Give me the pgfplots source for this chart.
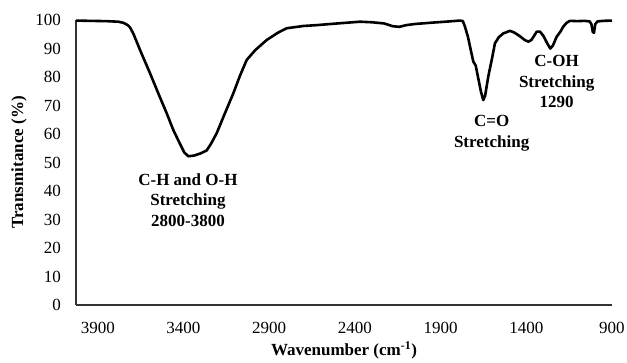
\documentclass[border=0pt]{standalone}
\usepackage{pgfplots}
\pgfplotsset{compat=1.18}
\usepackage{fontspec}
\setmainfont{Liberation Serif}
\pgfplotstableread{
wn T
4027 99.8
3950 99.7
3850 99.6
3780 99.4
3750 99.0
3725 98.2
3712 97.4
3693 95.3
3650 89
3595 81.3
3545 74
3498 67.3
3460 61.5
3420 56.5
3395 53.5
3372 52.2
3340 52.4
3300 53.2
3265 54.2
3240 56.5
3206 60.3
3160 67
3109 74.3
3070 80.5
3031 86
2980 89.5
2914 93
2850 95.5
2798 97.1
2700 97.9
2623 98.2
2500 98.8
2370 99.4
2300 99.2
2230 98.8
2178 97.8
2140 97.6
2100 98.2
2050 98.6
1943 99.1
1850 99.5
1787 99.8
1770 99.6
1758 97.7
1740 94
1728 90.6
1715 87
1709 85.4
1695 84
1680 79.5
1665 75
1651 71.9
1640 73.5
1622 80.1
1600 86.5
1583 91.8
1560 94
1534 95.3
1495 96.2
1470 95.6
1437 94.3
1410 93
1388 92.4
1370 93
1339 95.9
1320 95.9
1301 94.5
1275 91.5
1260 90.0
1245 91
1223 94.1
1200 96
1184 97.7
1165 99
1145 99.7
1100 99.6
1060 99.7
1030 99.5
1020 98.5
1012 95.8
1005 95.5
998 98.5
985 99.5
950 99.7
900 99.8
}\spectrum
\begin{document}
\begin{tikzpicture}
\begin{axis}[
  scale only axis,
  width=536pt, height=285pt,
  x dir=reverse,
  xmin=900, xmax=4027,
  ymin=0, ymax=100,
  xtick={900,1400,...,3900},
  ytick={0,10,...,100},
  axis x line=bottom, axis y line=left,
  axis line style={-, line width=1.3pt, black!80},
  major tick length=0pt,
  clip=false,
  /pgf/number format/assume math mode=true,
  /pgf/number format/1000 sep={},
  tick label style={font=\fontsize{17}{20}\selectfont, inner sep=0pt},
  xticklabel style={anchor=center, yshift=-23pt},
  yticklabel style={anchor=east, xshift=-15pt},
  xlabel={\textbf{Wavenumber (cm\textsuperscript{-1})}},
  ylabel={\textbf{Transmitance (\%)}},
  label style={font=\fontsize{17}{20}\selectfont},
  xlabel style={at={(axis description cs:0.5,-0.158)}, anchor=center},
  ylabel style={at={(axis description cs:-0.1063,0.5)}, anchor=center},
]
\addplot[black, line width=2.6pt, line join=round] table[x=wn, y=T] {\spectrum};
\node[align=center, font=\fontsize{17}{20.5}\selectfont\bfseries] at (axis cs:3374,36.8) {C-H and O-H\\Stretching\\2800-3800};
\node[align=center, font=\fontsize{17}{20.5}\selectfont\bfseries] at (axis cs:1602,60.3) {C=O\\Stretching};
\node[align=center, font=\fontsize{17}{20.5}\selectfont\bfseries] at (axis cs:1223,78.4) {C-OH\\Stretching\\1290};
\end{axis}
\path (current axis.south west) ++(-76pt,-56pt) coordinate (bl);
\path (current axis.north east) ++(15pt,20pt) coordinate (tr);
\path (bl) rectangle (tr);
\end{tikzpicture}
\end{document}
